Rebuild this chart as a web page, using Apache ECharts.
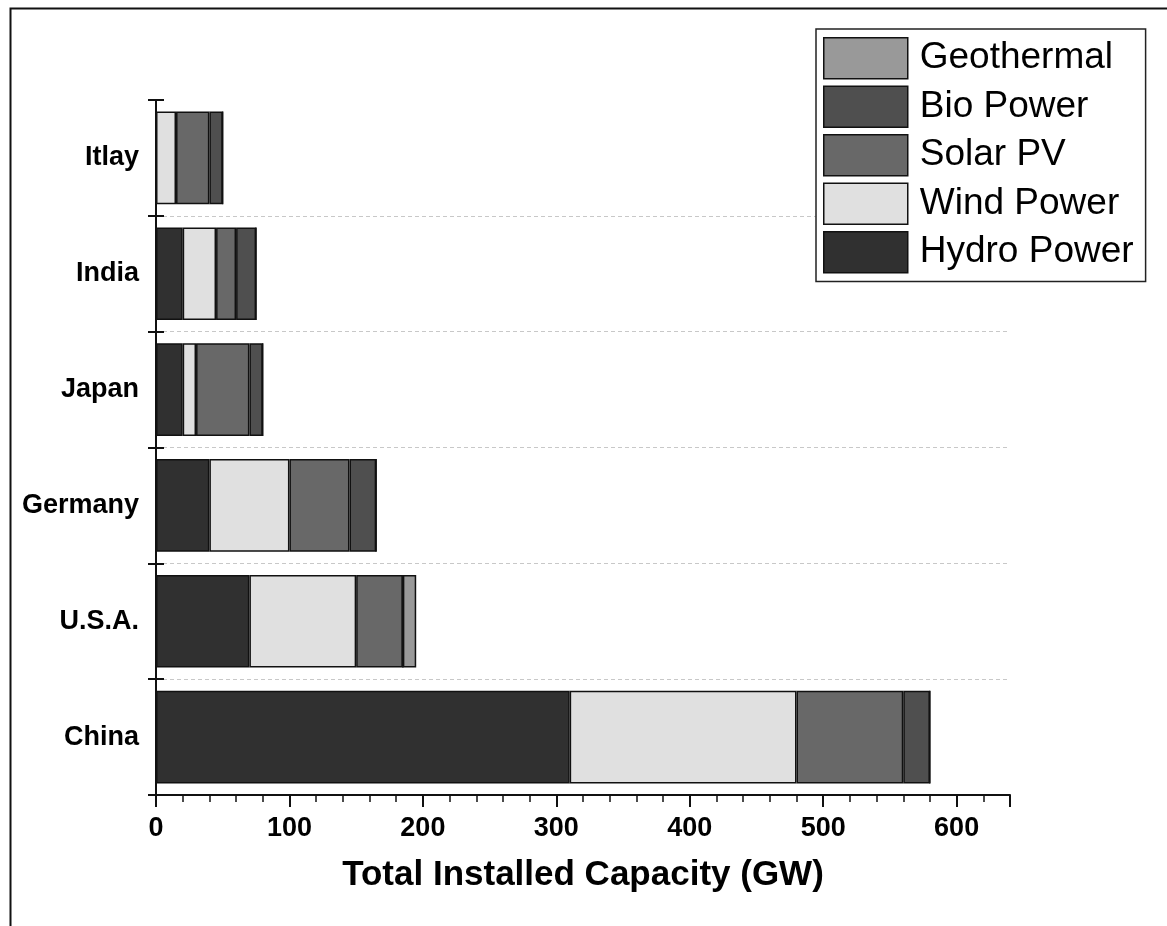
<!DOCTYPE html>
<html>
<head>
<meta charset="utf-8">
<script src="https://cdn.jsdelivr.net/npm/echarts@6/dist/echarts.min.js"></script>
<style>
html,body{margin:0;padding:0;background:#fff;}
#chart{width:1167px;height:926px;}
</style>
</head>
<body>
<div id="chart"></div>
<script>
// Categories, top to bottom
const countries = ['Itlay', 'India', 'Japan', 'Germany', 'U.S.A.', 'China'];
// Installed capacity (GW)
const hydroPower = [0, 20, 20, 40, 70, 310];
const windPower  = [15, 25, 10, 60, 80, 170];
const solarPV    = [25, 15, 40, 45, 35, 80];
const bioPower   = [10, 15, 10, 20, 0, 20];
const geothermal = [0, 0, 0, 0, 10, 0];
const xMajorTicks = [0, 100, 200, 300, 400, 500, 600];
const legendOrder = ['Geothermal', 'Bio Power', 'Solar PV', 'Wind Power', 'Hydro Power'];

const FONT = "'Liberation Sans', Arial, sans-serif";
const chart = echarts.init(document.getElementById('chart'), null, {renderer: 'canvas'});

function barSeries(name, data, color) {
  return {
    name: name, type: 'bar', stack: 'total', data: data,
    xAxisIndex: 0, yAxisIndex: 0,
    barCategoryGap: '20%',
    itemStyle: {color: color, borderColor: '#111', borderWidth: 1.5},
    emphasis: {disabled: true}
  };
}

const option = {
  backgroundColor: '#ffffff',
  animation: false,
  graphic: [{
    type: 'rect', left: 8, top: 6, z: -1,
    shape: {width: 1300, height: 1100},
    style: {fill: 'none', stroke: '#111', lineWidth: 2}
  }],
  grid: {left: 156, right: 157, top: 100, bottom: 131, containLabel: false},
  legend: {
    data: legendOrder,
    orient: 'vertical',
    left: 816, top: 29,
    padding: [8, 12, 8, 7],
    itemGap: 6,
    itemWidth: 84, itemHeight: 41,
    icon: 'rect',
    backgroundColor: '#ffffff',
    borderColor: '#222', borderWidth: 1.5,
    itemStyle: {borderColor: '#111', borderWidth: 1.5},
    textStyle: {fontFamily: FONT, fontSize: 37, color: '#000', padding: [0, 0, 0, 7]},
    selectedMode: false
  },
  xAxis: [{
    type: 'value', position: 'bottom', min: 0, max: 640, interval: 100, z: 5,
    name: 'Total Installed Capacity (GW)', nameLocation: 'middle', nameGap: 63,
    nameTextStyle: {fontFamily: FONT, fontSize: 35, fontWeight: 'bold', color: '#000'},
    axisLine: {show: true, lineStyle: {color: '#111', width: 2}},
    axisTick: {show: true, length: 12, lineStyle: {color: '#111', width: 2}},
    axisLabel: {fontFamily: FONT, fontSize: 27, fontWeight: 'bold', color: '#000', margin: 20,
      formatter: function (v) { return xMajorTicks.indexOf(v) >= 0 ? String(v) : ''; }},
    splitLine: {show: false}
  }, {
    type: 'value', position: 'bottom', min: 0, max: 640, interval: 20, z: 5,
    axisLine: {show: false},
    axisTick: {show: true, length: 7, lineStyle: {color: '#111', width: 1.5}},
    axisLabel: {show: false},
    splitLine: {show: false}
  }],
  yAxis: [{
    type: 'category', position: 'left', inverse: true, data: countries,
    axisLine: {show: true, lineStyle: {color: '#111', width: 2}},
    axisTick: {show: true, length: 8, lineStyle: {color: '#111', width: 2}},
    axisLabel: {fontFamily: FONT, fontSize: 27, fontWeight: 'bold', color: '#000', margin: 17},
    splitLine: {show: true, interval: function (idx) { return idx !== 0; },
      lineStyle: {color: '#c8c8c8', width: 1, type: [4, 3]}}
  }, {
    type: 'category', position: 'left', inverse: true, data: countries,
    axisLine: {show: false},
    axisTick: {show: true, inside: true, length: 8, lineStyle: {color: '#111', width: 2}},
    axisLabel: {show: false},
    splitLine: {show: false}
  }],
  series: [
    barSeries('Hydro Power', hydroPower, '#303030'),
    barSeries('Wind Power', windPower, '#e0e0e0'),
    barSeries('Solar PV', solarPV, '#686868'),
    barSeries('Bio Power', bioPower, '#4f4f4f'),
    barSeries('Geothermal', geothermal, '#999999')
  ]
};
chart.setOption(option);
</script>
</body>
</html>
